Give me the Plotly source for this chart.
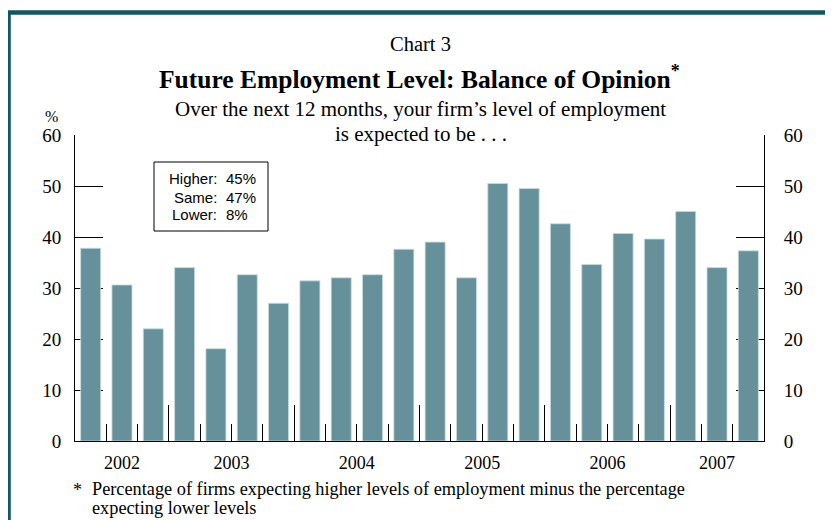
import plotly.graph_objects as go

# ---- data ----
quarters = ["2002Q2", "2002Q3", "2002Q4",
            "2003Q1", "2003Q2", "2003Q3", "2003Q4",
            "2004Q1", "2004Q2", "2004Q3", "2004Q4",
            "2005Q1", "2005Q2", "2005Q3", "2005Q4",
            "2006Q1", "2006Q2", "2006Q3", "2006Q4",
            "2007Q1", "2007Q2", "2007Q3"]
balance = [37.8, 30.6, 22.0, 34.0, 18.1, 32.6, 27.0, 31.4, 32.0, 32.6, 37.6,
           39.0, 32.0, 50.5, 49.5, 42.6, 34.6, 40.7, 39.6, 45.0, 34.0, 37.3]
years = ["2002", "2003", "2004", "2005", "2006", "2007"]
y_ticks = [0, 10, 20, 30, 40, 50, 60]
box_labels = ["Higher:", "Same:", "Lower:"]
box_values = ["45%", "47%", "8%"]

# ---- derived positions from data ----
idx = list(range(len(quarters)))
year_of = [q[:4] for q in quarters]
year_centers = []
year_bounds = []
for yr in years:
    members = [i for i, y in zip(idx, year_of) if y == yr]
    year_centers.append((members[0] + members[-1]) / 2)
for i in range(1, len(quarters)):
    if year_of[i] != year_of[i - 1]:
        year_bounds.append(i - 0.5)
quarter_bounds = [i + 0.5 for i in range(len(quarters) - 1)]

SERIF = "Liberation Serif"
SANS = "Liberation Sans"
BAR = "#67919a"

# page body offset (browser default margin)
OFF = 8
# plot area in reference pixels
L, R, T, B = 75, 764, 135, 441
W, H = 833, 520


def px(x):
    return (x - L) / (R - L)


def py(y):
    return (B - y) / (B - T)


fig = go.Figure()
fig.add_trace(go.Bar(x=idx, y=balance, marker=dict(color=BAR, line=dict(color="#c9dde0", width=0.8)),
                     width=0.64, hoverinfo="skip", showlegend=False))
fig.add_trace(go.Scatter(x=[None], y=[None], xaxis="x2", yaxis="y2", showlegend=False,
                         hoverinfo="skip"))

tick_font = dict(family=SERIF, size=18, color="black")
ytick_font = dict(family=SERIF, size=19, color="black")
fig.update_layout(
    width=W, height=H,
    font=dict(family=SERIF, size=16, color="black"),
    margin=dict(l=L - OFF, r=W - (R - OFF), t=T - OFF, b=H - (B - OFF), pad=0),
    paper_bgcolor="white", plot_bgcolor="white",
    xaxis=dict(range=[-0.5, len(quarters) - 0.5], tickmode="array", tickvals=year_centers,
               ticktext=years, ticks="", showgrid=False, zeroline=False, showline=True,
               linecolor="black", linewidth=1, tickfont=tick_font, ticklabelstandoff=5),
    xaxis2=dict(range=[-0.5, len(quarters) - 0.5], overlaying="x", anchor="y", side="bottom",
                tickmode="array", tickvals=year_bounds, ticks="inside", ticklen=36,
                tickcolor="black", tickwidth=1, showticklabels=False, showgrid=False,
                zeroline=False, showline=False,
                minor=dict(tickmode="array", tickvals=quarter_bounds, ticks="inside",
                           ticklen=17, tickcolor="black", tickwidth=1, showgrid=False)),
    yaxis=dict(range=[0, 60], tickmode="array", tickvals=y_ticks, ticks="inside", ticklen=28,
               tickcolor="black", tickwidth=1, showgrid=False, zeroline=False, showline=True,
               linecolor="black", linewidth=1, layer="below traces",
               tickfont=ytick_font, ticklabelstandoff=9),
    yaxis2=dict(range=[0, 60], overlaying="y", anchor="x", side="right", tickmode="array",
                tickvals=y_ticks, ticks="inside", ticklen=28, tickcolor="black", tickwidth=1,
                showgrid=False, zeroline=False, showline=True, linecolor="black", linewidth=1,
                layer="below traces", tickfont=ytick_font, ticklabelstandoff=15),
    bargap=0.36,
)

ann = []


def add_text(text, x, y, size, family=SERIF, xanchor="center", align="center", **kw):
    ann.append(dict(text=text, x=px(x), y=py(y), xref="paper", yref="paper", xanchor=xanchor,
                    yanchor="middle", showarrow=False, align=align,
                    font=dict(family=family, size=size, color="black"), **kw))


add_text("Chart 3", 420, 44, 20.5)
add_text("<b>Future Employment Level: Balance of Opinion<sup>*</sup></b>", 419, 77, 25.5)
add_text("Over the next 12 months, your firm\u2019s level of employment", 421, 109, 21)
add_text("is expected to be . . .", 421, 134, 21)
add_text("%", 51, 116, 16)

# legend-like box
box_y = [178, 197, 214]
for lab, val, yy in zip(box_labels, box_values, box_y):
    add_text(lab, 219, yy, 15, family=SANS, xanchor="right")
    add_text(val, 224, yy, 15, family=SANS, xanchor="left")

# footnote
add_text("*", 77, 490, 18, xanchor="center")
add_text("Percentage of firms expecting higher levels of employment minus the percentage",
         90, 489, 18.3, xanchor="left", align="left")
add_text("expecting lower levels", 90, 508, 18.3, xanchor="left", align="left")

fig.update_layout(annotations=ann)

shapes = [
    dict(type="rect", xref="paper", yref="paper", x0=px(154), x1=px(268), y0=py(231), y1=py(162),
         line=dict(color="black", width=1), fillcolor="white", layer="above"),
    dict(type="rect", xref="paper", yref="paper", x0=px(8.5), x1=px(834), y0=py(526), y1=py(12.5),
         line=dict(color="#0f5762", width=4.5), fillcolor="rgba(0,0,0,0)", layer="above"),
]
fig.update_layout(shapes=shapes)

fig.write_html("out.html")
